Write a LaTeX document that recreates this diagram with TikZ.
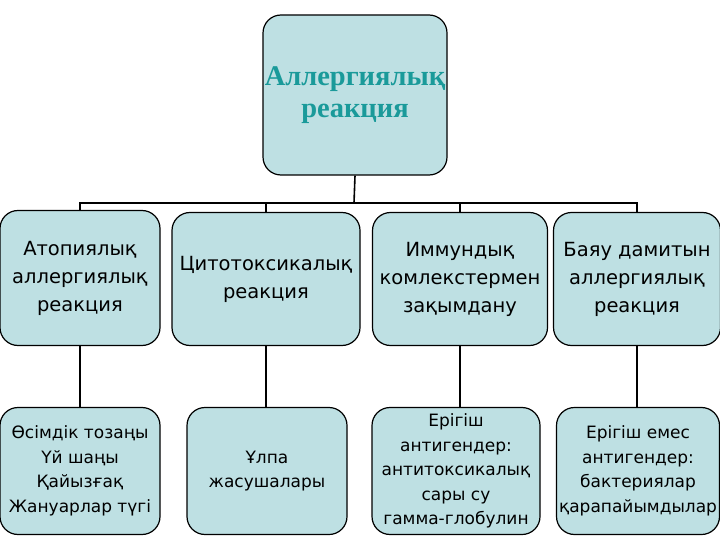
\documentclass[tikz,border=0pt]{standalone}
\usepackage{fontspec}
\setmainfont{DejaVu Sans}
\newfontfamily\titlefont{Liberation Serif}
\definecolor{boxfill}{HTML}{BEE0E3}
\definecolor{titlecol}{HTML}{1A9A9A}
\begin{document}
\begin{tikzpicture}[x=1pt,y=-1pt,
  box/.style={draw=black,line width=1.2pt,fill=boxfill,rounded corners=18pt,align=center,inner sep=0pt},
  midtxt/.style={font=\fontsize{19.5}{28}\selectfont},
  lowtxt/.style={font=\fontsize{17}{24.5}\selectfont},
  conn/.style={draw=black,line width=1.6pt}]
\useasboundingbox (0,0) rectangle (720,540);
\node[box,minimum width=184pt,minimum height=160pt,text=titlecol,font=\titlefont\bfseries\fontsize{28.5}{32}\selectfont] (top) at (355,95) {Аллергиялық\\реакция};
\node[box,midtxt,minimum width=160pt,minimum height=135pt] (m1) at (80,278) {Атопиялық\\аллергиялық\\реакция};
\node[box,midtxt,minimum width=188pt,minimum height=133pt] (m2) at (266,279) {Цитотоксикалық\\реакция};
\node[box,midtxt,minimum width=175pt,minimum height=133pt] (m3) at (460,279) {Иммундық\\комлекстермен\\зақымдану};
\node[box,midtxt,minimum width=167pt,minimum height=133pt] (m4) at (637,279) {Баяу дамитын\\аллергиялық\\реакция};
\node[box,lowtxt,minimum width=160pt,minimum height=127pt] (b1) at (80,471) {Өсімдік тозаңы\\Үй шаңы\\Қайызғақ\\Жануарлар түгі};
\node[box,lowtxt,minimum width=160pt,minimum height=127pt] (b2) at (267,471) {Ұлпа\\жасушалары};
\node[box,lowtxt,minimum width=168pt,minimum height=127pt] (b3) at (456,471) {Ерігіш\\антигендер:\\антитоксикалық\\сары су\\гамма-глобулин};
\node[box,lowtxt,minimum width=163pt,minimum height=127pt] (b4) at (638,471) {Ерігіш емес\\антигендер:\\бактериялар\\қарапайымдылар};
\coordinate (bus) at (354,203);
\draw[conn] (top.south) -- (bus);
\draw[conn] (m1.north) |- (bus) -| (m4.north);
\draw[conn] (m2.north) -- (m2.north |- bus);
\draw[conn] (m3.north) -- (m3.north |- bus);
\draw[conn] (m1.south) -- (b1.north);
\draw[conn] (m2.south) -- (b2.north -| m2.south);
\draw[conn] (m3.south) -- (b3.north -| m3.south);
\draw[conn] (m4.south) -- (b4.north -| m4.south);
\end{tikzpicture}
\end{document}
